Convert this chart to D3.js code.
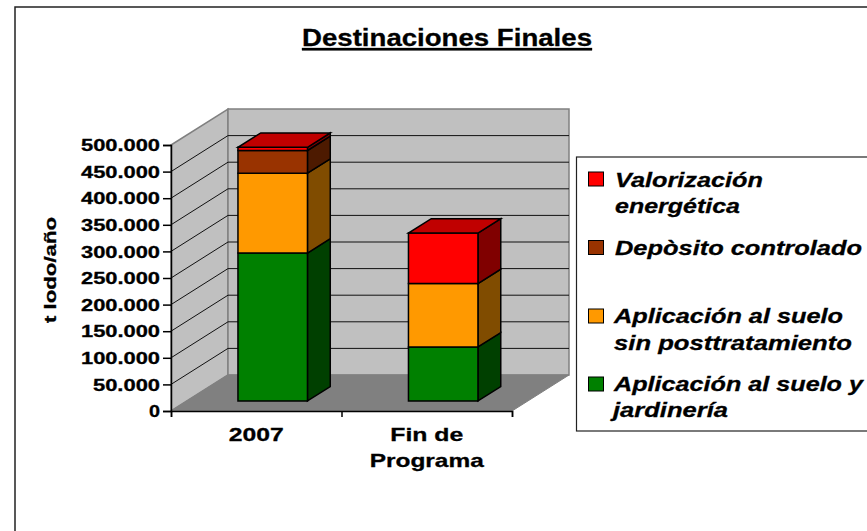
<!DOCTYPE html>
<html>
<head>
<meta charset="utf-8">
<script src="https://cdn.jsdelivr.net/npm/d3@7"></script>
<style>
html, body { margin: 0; padding: 0; background: #fff; }
svg { display: block; }
text { font-family: "Liberation Sans", Arial, sans-serif; font-weight: bold; fill: #000; stroke: #000; stroke-width: 0.3px; }
</style>
</head>
<body>
<svg id="chart" width="867" height="531"></svg>
<script>
var categories = ["2007", "Fin de Programa"];
var seriesNames = ["Aplicación al suelo y jardinería", "Aplicación al suelo sin posttratamiento", "Depòsito controlado", "Valorización energética"];
var suelo = [278000, 101500];
var sinPost = [150000, 119000];
var deposito = [42700, 0];
var valorizacion = [6000, 95000];
var yTicks = [0, 50000, 100000, 150000, 200000, 250000, 300000, 350000, 400000, 450000, 500000];

var frontColors = ["#008000", "#FF9900", "#993300", "#FF0000"];
var sideColors = ["#004000", "#804C00", "#4D1A00", "#800000"];

var rows = categories.map(function(c, i){
    return { cat: c, s0: suelo[i], s1: sinPost[i], s2: deposito[i], s3: valorizacion[i] };
});
var stack = d3.stack().keys(["s0", "s1", "s2", "s3"])(rows);

var width = 867, height = 531;
var svg = d3.select("#chart");

// front plane of the box, walls sit behind it by depth
var y = d3.scaleLinear().domain([0, 500000]).range([411, 145]);
var x = d3.scaleBand().domain(categories).range([171, 512]).paddingInner(0).paddingOuter(0);
var depth = { dx: 57, dy: -36 };
var barPad = 51;

function project(px, py, t){
    return [px + depth.dx * t, py + depth.dy * t];
}
function poly(points){
    return points.map(function(p){ return p.join(","); }).join(" ");
}

// text stretched to a given width, the original is a wide rendering
function wideText(parent, str, xpos, ypos, size, len, italic, anchor){
    return parent.append("text")
        .attr("x", xpos)
        .attr("y", ypos)
        .attr("font-size", size)
        .attr("font-style", italic ? "italic" : "normal")
        .attr("text-anchor", anchor || "start")
        .attr("textLength", len)
        .attr("lengthAdjust", "spacingAndGlyphs")
        .text(str);
}

// outer frame runs off the right and bottom of the page
svg.append("rect")
    .attr("x", 15).attr("y", 7)
    .attr("width", width + 20).attr("height", height + 20)
    .attr("fill", "#fff").attr("stroke", "#222").attr("stroke-width", 1.5);

// title
wideText(svg, "Destinaciones Finales", 302, 46, 24, 290, false)
    .style("text-decoration", "underline")
    .style("text-decoration-thickness", "3px")
    .style("text-underline-offset", "3px");

var x0 = x.range()[0], x1 = x.range()[1];
var yBase = y(0), yTop = y(500000);

// side wall, back wall, floor
svg.append("polygon")
    .attr("points", poly([[x0, yBase], [x0, yTop], project(x0, yTop, 1), project(x0, yBase, 1)]))
    .attr("fill", "#C0C0C0").attr("stroke", "#808080").attr("stroke-width", 1.5);
svg.append("polygon")
    .attr("points", poly([project(x0, yTop, 1), project(x1, yTop, 1), project(x1, yBase, 1), project(x0, yBase, 1)]))
    .attr("fill", "#C0C0C0").attr("stroke", "#808080").attr("stroke-width", 1.5);
svg.append("polygon")
    .attr("points", poly([[x0, yBase], [x1, yBase], project(x1, yBase, 1), project(x0, yBase, 1)]))
    .attr("fill", "#808080").attr("stroke", "#808080");

// gridlines
yTicks.slice(1, -1).forEach(function(v){
    var a = project(x0, y(v), 1), b = project(x1, y(v), 1);
    svg.append("polyline")
        .attr("points", poly([[x0, y(v)], a, b]))
        .attr("fill", "none").attr("stroke", "#111").attr("stroke-width", 1);
});

// axes
var yAxis = d3.axisLeft(y)
    .tickValues(yTicks)
    .tickSize(8)
    .tickPadding(3)
    .tickFormat(function(d){ return d3.format(",")(d).replace(/,/g, "."); });
var yG = svg.append("g").attr("transform", "translate(" + x0 + ",0)").call(yAxis);
yG.select(".domain").attr("stroke", "#000").attr("stroke-width", 1.5);
yG.selectAll(".tick line").attr("stroke", "#000").attr("stroke-width", 1.5);
yG.selectAll(".tick text")
    .attr("font-family", null).attr("font-size", 16).attr("dy", "0.36em")
    .attr("textLength", function(d){ return d === 0 ? 11 : (d < 100000 ? 67 : 79); })
    .attr("lengthAdjust", "spacingAndGlyphs");

var xAxis = d3.axisBottom(d3.scaleLinear().domain([0, categories.length]).range([x0, x1]))
    .tickValues(d3.range(categories.length + 1))
    .tickSize(6)
    .tickFormat("");
var xG = svg.append("g").attr("transform", "translate(0," + yBase + ")").call(xAxis);
xG.select(".domain").attr("stroke", "#000").attr("stroke-width", 1.5);
xG.selectAll(".tick line").attr("stroke", "#000").attr("stroke-width", 1.5);

// category labels
wideText(svg, "2007", x(categories[0]) + x.bandwidth() / 2, 441, 19, 55, false, "middle");
wideText(svg, "Fin de", x(categories[1]) + x.bandwidth() / 2, 441, 19, 73, false, "middle");
wideText(svg, "Programa", x(categories[1]) + x.bandwidth() / 2, 467, 19, 114, false, "middle");

// y title
wideText(svg, "t lodo/año", 0, 0, 17, 106, false, "middle")
    .attr("transform", "translate(56,270) rotate(-90)");

// bars, front t=.28, back t=.68
var tFront = 0.28, tBack = 0.68;
var totals = rows.map(function(r){ return r.s0 + r.s1 + r.s2 + r.s3; });

var barGroups = svg.selectAll("g.bar").data(rows).enter().append("g").attr("class", "bar");
barGroups.each(function(r, i){
    var g = d3.select(this);
    var left = x(r.cat) + barPad, right = x(r.cat) + x.bandwidth() - barPad + 1;
    stack.forEach(function(layer, k){
        var v0 = layer[i][0], v1 = layer[i][1];
        if (v1 === v0) return;
        var fa = project(left, y(v0), tFront), fb = project(right, y(v0), tFront);
        var fc = project(right, y(v1), tFront), fd = project(left, y(v1), tFront);
        var sb = project(right, y(v0), tBack), sc = project(right, y(v1), tBack);
        g.append("polygon").attr("points", poly([fb, sb, sc, fc]))
            .attr("fill", sideColors[k]).attr("stroke", "#000").attr("stroke-width", 1.5);
        g.append("polygon").attr("points", poly([fa, fb, fc, fd]))
            .attr("fill", frontColors[k]).attr("stroke", "#000").attr("stroke-width", 1.5);
    });
    var t = totals[i];
    g.append("polygon")
        .attr("points", poly([project(left, y(t), tFront), project(right, y(t), tFront), project(right, y(t), tBack), project(left, y(t), tBack)]))
        .attr("fill", "#C00000").attr("stroke", "#000").attr("stroke-width", 1.5);
});

// legend
var legendLines = [
    { c: 3, top: 172, lines: [["Valorización", 615, 187, 148], ["energética", 615, 213, 125]] },
    { c: 2, top: 240.5, lines: [["Depòsito controlado", 615, 254.5, 247]] },
    { c: 1, top: 309, lines: [["Aplicación al suelo", 614, 323, 229], ["sin posttratamiento", 614, 349.5, 238]] },
    { c: 0, top: 377, lines: [["Aplicación al suelo y", 614, 390.5, 249], ["jardinería", 613, 416.5, 115]] }
];
svg.append("rect")
    .attr("x", 576.5).attr("y", 157)
    .attr("width", 320).attr("height", 274)
    .attr("fill", "#fff").attr("stroke", "#222").attr("stroke-width", 1.2);
legendLines.forEach(function(item){
    svg.append("rect")
        .attr("x", 588.5).attr("y", item.top)
        .attr("width", 15).attr("height", 14)
        .attr("fill", frontColors[item.c]).attr("stroke", "#000").attr("stroke-width", 1);
    item.lines.forEach(function(l){
        wideText(svg, l[0], l[1], l[2], 20.5, l[3], true);
    });
});
</script>
</body>
</html>
